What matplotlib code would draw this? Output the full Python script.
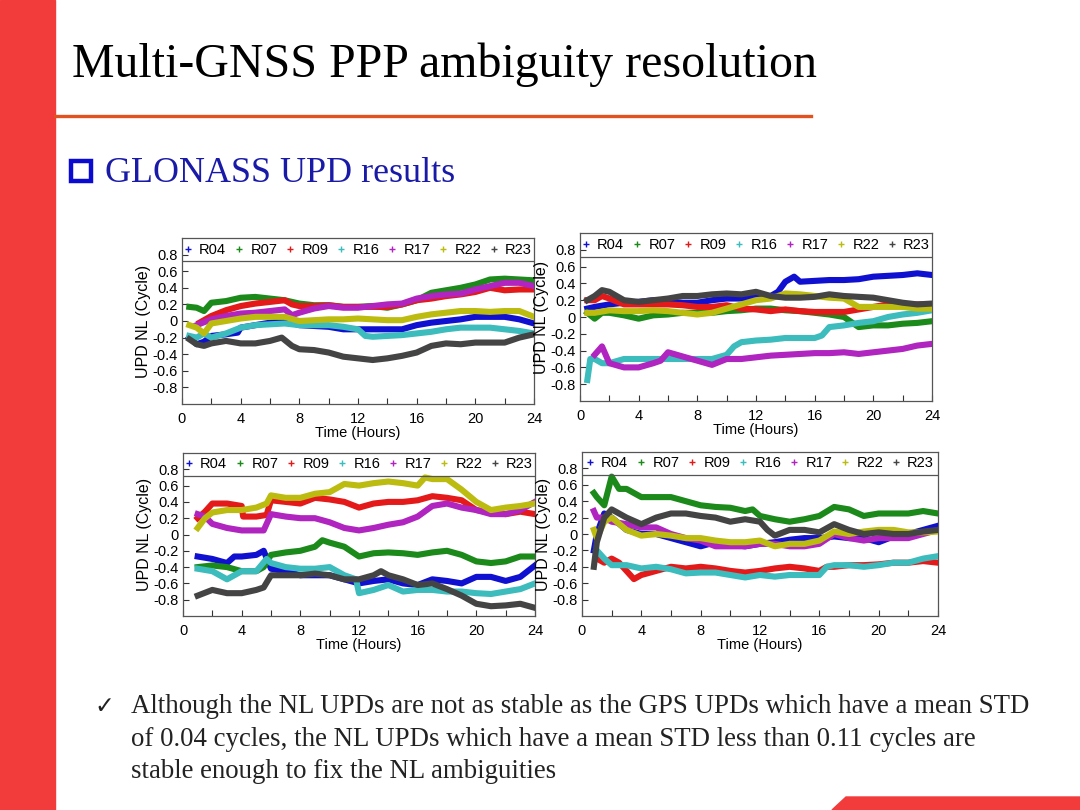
import matplotlib
matplotlib.use("Agg")

import matplotlib.pyplot as plt
from matplotlib.lines import Line2D
from matplotlib.patches import Rectangle, Polygon

W, H = 1080, 810

# ── station colours / names ────────────────────────────────────────────
SATS = ["R04", "R07", "R09", "R16", "R17", "R22", "R23"]
COLORS = ["#1010d0", "#1b8a1b", "#e41a1a", "#3cbcbc", "#b024c0", "#bcbc10", "#444444"]

# ── panel 1 (top-left): (hour, UPD NL cycle) ──────────────────────────
TL_R04 = [(0.5, -0.2), (1, -0.28), (1.5, -0.25), (2, -0.18), (3, -0.16), (3.8, -0.14), (4, -0.08),
          (5, -0.05), (6, -0.02), (7, 0.0), (8, -0.05), (9, -0.06), (10, -0.07), (11, -0.1),
          (12, -0.1), (13, -0.1), (14, -0.1), (15, -0.1), (16, -0.05), (17, -0.02), (18, 0.0),
          (19, 0.02), (20, 0.05), (21, 0.05), (22, 0.05), (23, 0.02), (24, -0.03)]
TL_R07 = [(0.5, 0.17), (1, 0.16), (1.5, 0.12), (2, 0.22), (3, 0.24), (4, 0.28), (5, 0.29),
          (6, 0.27), (7, 0.25), (8, 0.21), (9, 0.19), (10, 0.19), (11, 0.17), (12, 0.17),
          (13, 0.18), (14, 0.16), (15, 0.2), (16, 0.25), (17, 0.34), (18, 0.37), (19, 0.4),
          (20, 0.44), (21, 0.5), (22, 0.51), (23, 0.5), (24, 0.49)]
TL_R09 = [(1.2, -0.02), (2, 0.06), (3, 0.13), (4, 0.18), (5, 0.21), (6, 0.23), (7, 0.25),
          (7.5, 0.2), (8, 0.18), (9, 0.18), (10, 0.19), (11, 0.17), (12, 0.17), (13, 0.17),
          (14, 0.17), (15, 0.2), (16, 0.25), (17, 0.27), (18, 0.3), (19, 0.32), (20, 0.35),
          (21, 0.4), (22, 0.37), (23, 0.38), (24, 0.38)]
TL_R16 = [(0.5, -0.18), (1, -0.2), (1.5, -0.15), (2, -0.2), (3, -0.15), (4, -0.08), (5, -0.05),
          (6, -0.04), (7, -0.03), (8, -0.05), (9, -0.05), (10, -0.05), (11, -0.07), (12, -0.1),
          (12.5, -0.18), (13, -0.19), (14, -0.18), (15, -0.17), (16, -0.15), (17, -0.13),
          (18, -0.1), (19, -0.08), (20, -0.08), (21, -0.08), (22, -0.1), (23, -0.12), (24, -0.15)]
TL_R17 = [(1, -0.05), (2, 0.02), (3, 0.06), (4, 0.09), (5, 0.1), (6, 0.12), (7, 0.14),
          (7.5, 0.07), (8, 0.1), (9, 0.15), (10, 0.18), (11, 0.16), (12, 0.16), (13, 0.18),
          (14, 0.2), (15, 0.21), (16, 0.27), (17, 0.3), (18, 0.32), (19, 0.33), (20, 0.38),
          (21, 0.42), (22, 0.46), (23, 0.46), (24, 0.42)]
TL_R22 = [(0.5, -0.05), (1, -0.08), (1.5, -0.15), (2, -0.03), (3, 0.0), (4, 0.03), (5, 0.05),
          (6, 0.05), (7, 0.05), (8, 0.0), (9, 0.01), (10, 0.02), (11, 0.02), (12, 0.03),
          (13, 0.02), (14, 0.01), (15, 0.01), (16, 0.05), (17, 0.08), (18, 0.1), (19, 0.12),
          (20, 0.12), (21, 0.11), (22, 0.12), (23, 0.12), (24, 0.05)]
TL_R23 = [(0.5, -0.22), (1, -0.28), (1.5, -0.3), (2, -0.27), (3, -0.24), (4, -0.27), (5, -0.27),
          (6, -0.24), (6.8, -0.2), (7.5, -0.3), (8, -0.34), (9, -0.35), (10, -0.38), (11, -0.43),
          (12, -0.45), (13, -0.47), (14, -0.45), (15, -0.42), (16, -0.38), (17, -0.3),
          (18, -0.27), (19, -0.28), (20, -0.26), (21, -0.26), (22, -0.26), (23, -0.2), (24, -0.16)]

# ── panel 2 (top-right) ───────────────────────────────────────────────
TR_R04 = [(0.5, 0.1), (1, 0.12), (2, 0.15), (3, 0.17), (4, 0.18), (5, 0.2), (6, 0.18), (7, 0.17),
          (8, 0.17), (9, 0.2), (10, 0.22), (11, 0.22), (12, 0.25), (13, 0.25), (13.5, 0.3),
          (14, 0.42), (14.6, 0.48), (15, 0.42), (16, 0.43), (17, 0.44), (18, 0.44), (19, 0.45),
          (20, 0.48), (21, 0.49), (22, 0.5), (23, 0.52), (24, 0.5)]
TR_R07 = [(0.5, 0.05), (1, -0.02), (1.5, 0.05), (2, 0.05), (3, 0.02), (4, -0.02), (5, 0.02),
          (6, 0.03), (7, 0.05), (8, 0.05), (9, 0.05), (10, 0.07), (11, 0.08), (12, 0.1),
          (13, 0.1), (14, 0.08), (15, 0.07), (16, 0.05), (17, 0.03), (18, 0.0), (19, -0.12),
          (20, -0.1), (21, -0.1), (22, -0.08), (23, -0.07), (24, -0.05)]
TR_R09 = [(0.5, 0.2), (1, 0.2), (1.5, 0.25), (2, 0.22), (3, 0.15), (4, 0.15), (5, 0.15),
          (6, 0.15), (7, 0.14), (8, 0.12), (9, 0.12), (10, 0.14), (11, 0.1), (12, 0.09),
          (13, 0.07), (14, 0.09), (15, 0.07), (16, 0.06), (17, 0.06), (18, 0.06), (19, 0.09),
          (20, 0.12), (21, 0.15), (22, 0.14), (23, 0.15), (24, 0.15)]
TR_R16 = [(0.5, -0.75), (0.7, -0.5), (1, -0.5), (1.5, -0.55), (2, -0.55), (3, -0.5), (4, -0.5),
          (5, -0.5), (6, -0.5), (7, -0.5), (8, -0.5), (9, -0.5), (10, -0.45), (10.5, -0.35),
          (11, -0.3), (12, -0.28), (13, -0.27), (14, -0.25), (15, -0.25), (16, -0.25),
          (16.5, -0.22), (17, -0.12), (18, -0.1), (19, -0.07), (20, -0.05), (21, 0.0),
          (22, 0.03), (23, 0.05), (24, 0.08)]
TR_R17 = [(1, -0.45), (1.5, -0.35), (2, -0.55), (3, -0.6), (4, -0.6), (5, -0.55), (5.5, -0.52),
          (6, -0.42), (7, -0.47), (8, -0.52), (9, -0.57), (10, -0.5), (11, -0.5), (12, -0.48),
          (13, -0.46), (14, -0.45), (15, -0.44), (16, -0.43), (17, -0.43), (18, -0.42),
          (19, -0.44), (20, -0.42), (21, -0.4), (22, -0.38), (23, -0.34), (24, -0.32)]
TR_R22 = [(0.5, 0.05), (1, 0.05), (2, 0.08), (3, 0.07), (4, 0.07), (5, 0.08), (6, 0.07),
          (7, 0.05), (8, 0.03), (9, 0.05), (10, 0.1), (11, 0.15), (12, 0.2), (13, 0.22),
          (14, 0.28), (15, 0.27), (16, 0.25), (17, 0.23), (18, 0.22), (19, 0.12), (20, 0.12),
          (21, 0.12), (22, 0.12), (23, 0.1), (24, 0.1)]
TR_R23 = [(0.5, 0.2), (1, 0.25), (1.5, 0.32), (2, 0.3), (3, 0.2), (4, 0.18), (5, 0.2), (6, 0.22),
          (7, 0.25), (8, 0.25), (9, 0.27), (10, 0.28), (11, 0.27), (12, 0.3), (13, 0.25),
          (14, 0.23), (15, 0.23), (16, 0.24), (17, 0.27), (18, 0.25), (19, 0.24), (20, 0.23),
          (21, 0.2), (22, 0.17), (23, 0.15), (24, 0.16)]

# ── panel 3 (bottom-left) ─────────────────────────────────────────────
BL_R04 = [(1, -0.27), (2, -0.3), (3, -0.35), (3.5, -0.27), (4, -0.27), (5, -0.25), (5.5, -0.2),
          (6, -0.42), (7, -0.45), (8, -0.5), (9, -0.5), (10, -0.5), (11, -0.55), (12, -0.6),
          (13, -0.57), (14, -0.55), (15, -0.6), (16, -0.62), (17, -0.55), (18, -0.57),
          (19, -0.6), (20, -0.52), (21, -0.52), (22, -0.57), (23, -0.52), (24, -0.38)]
BL_R07 = [(1, -0.4), (2, -0.38), (3, -0.4), (4, -0.45), (5, -0.45), (5.5, -0.4), (6, -0.25),
          (7, -0.22), (8, -0.2), (9, -0.15), (9.5, -0.07), (10, -0.1), (11, -0.15), (12, -0.27),
          (13, -0.23), (14, -0.22), (15, -0.23), (16, -0.25), (17, -0.22), (18, -0.2),
          (19, -0.25), (20, -0.33), (21, -0.35), (22, -0.33), (23, -0.27), (24, -0.27)]
BL_R09 = [(1, 0.2), (1.5, 0.28), (2, 0.38), (3, 0.38), (4, 0.35), (4.1, 0.22), (5, 0.22),
          (5.7, 0.24), (6, 0.42), (7, 0.4), (8, 0.38), (9, 0.45), (10, 0.43), (11, 0.4),
          (12, 0.33), (13, 0.38), (14, 0.4), (15, 0.4), (16, 0.42), (17, 0.47), (18, 0.45),
          (19, 0.42), (20, 0.3), (21, 0.27), (22, 0.25), (23, 0.28), (24, 0.25)]
BL_R16 = [(1, -0.42), (2, -0.45), (3, -0.55), (4, -0.45), (5, -0.45), (5.7, -0.3), (6, -0.35),
          (7, -0.4), (8, -0.42), (9, -0.42), (10, -0.4), (11, -0.5), (11.8, -0.55), (12, -0.72),
          (13, -0.68), (14, -0.62), (15, -0.7), (16, -0.68), (17, -0.68), (18, -0.7),
          (19, -0.7), (20, -0.72), (21, -0.73), (22, -0.7), (23, -0.67), (24, -0.6)]
BL_R17 = [(1, 0.25), (1.5, 0.22), (2, 0.13), (3, 0.08), (4, 0.05), (5, 0.05), (5.5, 0.05),
          (6, 0.25), (7, 0.22), (8, 0.2), (9, 0.2), (10, 0.15), (11, 0.08), (12, 0.05),
          (13, 0.08), (14, 0.12), (15, 0.15), (16, 0.22), (17, 0.35), (18, 0.38), (19, 0.33),
          (20, 0.3), (21, 0.25), (22, 0.25), (23, 0.3), (24, 0.4)]
BL_R22 = [(1, 0.08), (1.5, 0.2), (2, 0.27), (3, 0.3), (4, 0.3), (5, 0.33), (5.7, 0.38),
          (6, 0.48), (7, 0.45), (8, 0.45), (9, 0.5), (10, 0.52), (11, 0.62), (12, 0.6),
          (13, 0.63), (14, 0.65), (15, 0.63), (16, 0.6), (16.5, 0.7), (17, 0.68), (18, 0.68),
          (19, 0.55), (20, 0.4), (21, 0.3), (22, 0.33), (23, 0.35), (24, 0.38)]
BL_R23 = [(1, -0.75), (2, -0.68), (3, -0.72), (4, -0.72), (5, -0.68), (5.5, -0.65), (6, -0.5),
          (7, -0.5), (8, -0.5), (9, -0.48), (10, -0.5), (11, -0.55), (12, -0.55), (13, -0.5),
          (13.5, -0.45), (14, -0.5), (15, -0.55), (16, -0.62), (17, -0.6), (18, -0.67),
          (19, -0.75), (20, -0.85), (21, -0.88), (22, -0.87), (23, -0.85), (24, -0.9)]

# ── panel 4 (bottom-right) ────────────────────────────────────────────
BR_R04 = [(0.8, -0.2), (1, 0.0), (1.5, 0.25), (2, 0.2), (3, 0.05), (4, 0.0), (5, 0.0),
          (6, -0.05), (7, -0.1), (8, -0.15), (9, -0.1), (10, -0.13), (11, -0.15), (12, -0.12),
          (13, -0.1), (14, -0.07), (15, -0.05), (16, -0.05), (17, -0.03), (18, -0.05),
          (19, -0.05), (20, -0.1), (21, -0.03), (22, 0.0), (23, 0.05), (24, 0.1)]
BR_R07 = [(0.8, 0.5), (1, 0.45), (1.5, 0.35), (2, 0.7), (2.5, 0.55), (3, 0.55), (4, 0.45),
          (5, 0.45), (6, 0.45), (7, 0.4), (8, 0.35), (9, 0.33), (10, 0.32), (11, 0.28),
          (11.5, 0.3), (12, 0.22), (13, 0.18), (14, 0.15), (15, 0.18), (16, 0.22), (17, 0.33),
          (18, 0.3), (19, 0.22), (20, 0.25), (21, 0.25), (22, 0.25), (23, 0.28), (24, 0.25)]
BR_R09 = [(1, -0.3), (1.5, -0.35), (2, -0.3), (2.5, -0.35), (3, -0.45), (3.5, -0.55), (4, -0.5),
          (5, -0.45), (6, -0.4), (7, -0.42), (8, -0.4), (9, -0.42), (10, -0.45), (11, -0.47),
          (12, -0.45), (13, -0.42), (14, -0.4), (15, -0.42), (16, -0.45), (16.5, -0.4),
          (17, -0.4), (18, -0.38), (19, -0.38), (20, -0.37), (21, -0.35), (22, -0.35),
          (23, -0.33), (24, -0.35)]
BR_R16 = [(1, -0.2), (1.5, -0.3), (2, -0.38), (3, -0.38), (4, -0.42), (5, -0.4), (6, -0.43),
          (7, -0.48), (8, -0.47), (9, -0.47), (10, -0.5), (11, -0.53), (12, -0.5), (13, -0.52),
          (14, -0.5), (15, -0.5), (16, -0.5), (16.5, -0.4), (17, -0.38), (18, -0.38),
          (19, -0.4), (20, -0.38), (21, -0.35), (22, -0.35), (23, -0.3), (24, -0.27)]
BR_R17 = [(0.8, 0.28), (1, 0.2), (1.5, 0.2), (2, 0.15), (3, 0.12), (4, 0.08), (5, 0.08),
          (6, 0.0), (7, -0.05), (8, -0.08), (9, -0.15), (10, -0.15), (11, -0.15), (12, -0.12),
          (13, -0.12), (14, -0.15), (15, -0.15), (16, -0.12), (17, 0.0), (18, -0.05),
          (19, -0.08), (20, -0.05), (21, -0.05), (22, -0.05), (23, 0.0), (24, 0.05)]
BR_R22 = [(0.8, 0.05), (1, -0.05), (1.5, 0.15), (2, 0.2), (3, 0.05), (4, -0.02), (5, 0.0),
          (6, -0.02), (7, -0.05), (8, -0.05), (9, -0.08), (10, -0.1), (11, -0.1), (12, -0.08),
          (13, -0.15), (14, -0.12), (15, -0.12), (16, -0.08), (17, 0.03), (18, 0.0),
          (19, 0.03), (20, 0.05), (21, 0.05), (22, 0.02), (23, 0.02), (24, 0.03)]
BR_R23 = [(0.8, -0.4), (1, -0.1), (1.5, 0.2), (2, 0.3), (2.5, 0.25), (3, 0.2), (4, 0.12),
          (5, 0.2), (6, 0.25), (7, 0.25), (8, 0.22), (9, 0.2), (10, 0.15), (11, 0.18),
          (12, 0.15), (12.5, 0.05), (13, -0.02), (14, 0.05), (15, 0.05), (16, 0.02), (17, 0.12),
          (18, 0.05), (19, 0.0), (20, 0.02), (21, 0.0), (22, 0.0), (23, 0.03), (24, 0.05)]

TITLE = "Multi-GNSS PPP ambiguity resolution"
SUBTITLE = "GLONASS UPD results"
NOTE = ["Although the NL UPDs are not as stable as the GPS UPDs which have a mean STD",
        "of 0.04 cycles, the NL UPDs which have a mean STD less than 0.11 cycles are",
        "stable enough to fix the NL ambiguities"]

X_TICKS = [0, 4, 8, 12, 16, 20, 24]
Y_TICKS = [0.8, 0.6, 0.4, 0.2, 0, -0.2, -0.4, -0.6, -0.8]
Y_LABELS = ["0.8", "0.6", "0.4", "0.2", "0", "-0.2", "-0.4", "-0.6", "-0.8"]

PANELS = [
    ((182, 238, 534, 404), [TL_R04, TL_R07, TL_R09, TL_R16, TL_R17, TL_R22, TL_R23]),
    ((580, 233, 932, 401), [TR_R04, TR_R07, TR_R09, TR_R16, TR_R17, TR_R22, TR_R23]),
    ((183, 453, 535, 616), [BL_R04, BL_R07, BL_R09, BL_R16, BL_R17, BL_R22, BL_R23]),
    ((582, 452, 938, 616), [BR_R04, BR_R07, BR_R09, BR_R16, BR_R17, BR_R22, BR_R23]),
]

SANS = "Liberation Sans"
SERIF = "Liberation Serif"


def fx(x):
    return x / W


def fy(y):
    return 1 - y / H


def draw_panel(fig, box, series):
    x0, y0, x1, y1 = box
    ax = fig.add_axes([fx(x0), fy(y1), (x1 - x0) / W, (y1 - y0) / H])
    for pts, c in zip(series, COLORS):
        t = [p[0] for p in pts]
        v = [p[1] for p in pts]
        ax.plot(t, v, color=c, lw=4.4, solid_joinstyle="round", zorder=3)

    ax.set_xlim(0, 24)
    ax.set_ylim(-1, 1)
    ax.set_xticks(X_TICKS)
    ax.set_xticks(range(0, 25, 2), minor=True)
    ax.set_yticks(Y_TICKS)
    ax.set_yticklabels(Y_LABELS)
    ax.tick_params(which="both", direction="in", length=4, width=0.8,
                   labelsize=10.5, colors="#333333", labelcolor="black")
    ax.tick_params(axis="x", pad=6)
    ax.tick_params(axis="y", pad=3)
    for lab in ax.get_xticklabels() + ax.get_yticklabels():
        lab.set_family(SANS)
    for s in ax.spines.values():
        s.set_color("#555555")
        s.set_linewidth(0.9)

    ax.set_xlabel("Time (Hours)", fontsize=10.5, family=SANS, labelpad=0)
    ax.set_ylabel("UPD NL (Cycle)", fontsize=11.5, family=SANS, labelpad=1)

    # legend band across the top of the axes, like the original MATLAB box
    ax.axhline(0.72, color="#555555", lw=0.9, zorder=4)
    handles = [Line2D([], [], marker="+", ls="none", color=c, ms=4, mew=1.0) for c in COLORS]
    ax.legend(handles, SATS, loc="center", bbox_to_anchor=(0.5, 0.93), ncol=7,
              frameon=False, handlelength=0.6, handletextpad=0.45,
              columnspacing=0.6, borderpad=0.1, prop={"family": SANS, "size": 10.5})
    return ax


def main():
    fig = plt.figure(figsize=(W / 100, H / 100), dpi=100)
    fig.patch.set_facecolor("white")

    # slide decoration
    fig.patches.append(Rectangle((0, 0), fx(55), 1, transform=fig.transFigure,
                                 color="#f23b3b", zorder=0))
    fig.patches.append(Polygon([(fx(832), fy(810)), (fx(846), fy(797)), (1, fy(797)), (1, fy(810))],
                               closed=True, transform=fig.transFigure, color="#f23b3b"))
    fig.lines.append(Line2D([fx(55), fx(811)], [fy(116), fy(116)], transform=fig.transFigure,
                            color="#e2521f", lw=2.4))

    fig.text(fx(72), fy(77), TITLE, fontsize=34.5, family=SERIF, color="black", va="baseline")

    fig.patches.append(Rectangle((fx(71), fy(181)), fx(20), 20 / H, transform=fig.transFigure,
                                 facecolor="white", edgecolor="#0a0ad0", lw=3.2))
    fig.text(fx(105), fy(182), SUBTITLE, fontsize=25.9, family=SERIF, color="#1a1aa8",
             va="baseline")

    for box, series in PANELS:
        draw_panel(fig, box, series)

    fig.text(fx(94), fy(713), "\u2713", fontsize=17, family="DejaVu Sans", color="#222222",
             va="baseline")
    for i, line in enumerate(NOTE):
        fig.text(fx(131), fy(713 + 32.5 * i), line, fontsize=19.4, family=SERIF,
                 color="#222222", va="baseline")

    fig.savefig("out.png", dpi=100)
    plt.close(fig)


if __name__ == "__main__":
    main()
